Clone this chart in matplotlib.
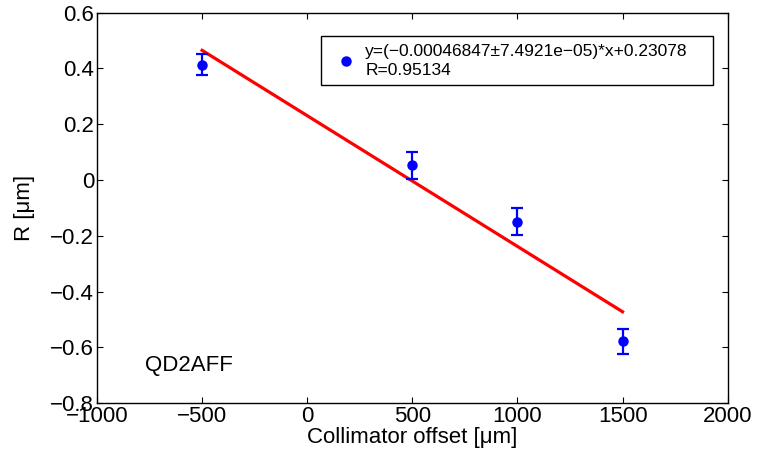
import matplotlib
matplotlib.use('Agg')
import matplotlib.pyplot as plt
from matplotlib.lines import Line2D

plt.rcParams['font.family'] = ['Liberation Sans', 'DejaVu Sans']

# Measured points
offset = [-500, 500, 1000, 1500]
r_val = [0.413, 0.053, -0.149, -0.578]
r_err = [0.038, 0.048, 0.048, 0.045]

# Linear fit
slope = -0.00046847
intercept = 0.23078
fit_x = [-500, 1500]
fit_y = [slope * x + intercept for x in fit_x]

fig = plt.figure(figsize=(7.58, 4.65), dpi=100)
ax = fig.add_axes([0.128, 0.1327, 0.832, 0.84])

ax.plot(fit_x, fit_y, color='red', lw=2.3, zorder=2)
ax.errorbar(offset, r_val, yerr=r_err, fmt='o', color='blue', ms=6.5,
            elinewidth=1.6, capsize=4, capthick=1.6, zorder=3)

ax.set_xlim(-1000, 2000)
ax.set_ylim(-0.8, 0.6)
ax.set_xticks([-1000, -500, 0, 500, 1000, 1500, 2000])
ax.set_yticks([-0.8, -0.6, -0.4, -0.2, 0, 0.2, 0.4, 0.6])
ax.set_yticklabels(['\u22120.8', '\u22120.6', '\u22120.4', '\u22120.2', '0', '0.2', '0.4', '0.6'])
ax.set_xticklabels(['\u22121000', '\u2212500', '0', '500', '1000', '1500', '2000'])
ax.tick_params(direction='in', top=True, right=True, length=4, width=0.8,
               labelsize=16, pad=2)
for s in ax.spines.values():
    s.set_linewidth(1.0)

ax.set_xlabel('Collimator offset [\u03bcm]', fontsize=16, labelpad=0)
ax.set_ylabel('R [\u03bcm]', fontsize=16, labelpad=11)

ax.text(-770, -0.663, 'QD2AFF', fontsize=16, va='center', ha='left')

h = Line2D([], [], marker='o', color='blue', ls='none', ms=6.5)
leg = ax.legend([h], ['y=(\u22120.00046847\u00b17.4921e\u221205)*x+0.23078\nR=0.95134'],
                loc='upper left', bbox_to_anchor=(0.355, 0.5, 0.6215, 0.44),
                mode='expand', borderaxespad=0, fontsize=12.5,
                frameon=True, fancybox=False, framealpha=1, edgecolor='black',
                handlelength=2.0, handletextpad=0.1, borderpad=0.45)
leg.get_frame().set_linewidth(1.0)
for t in leg.get_texts():
    t.set_linespacing(1.3)

fig.savefig('out.png', dpi=100)
